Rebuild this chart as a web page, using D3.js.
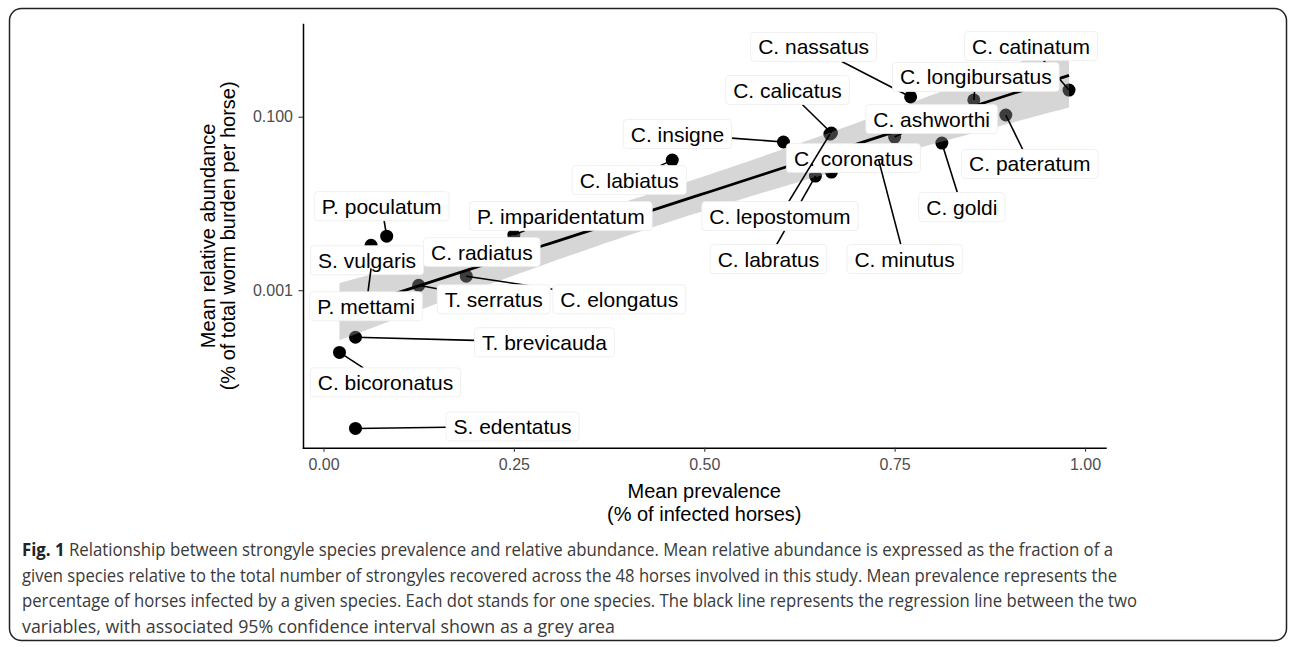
<!DOCTYPE html>
<html>
<head>
<meta charset="utf-8">
<script src="https://d3js.org/d3.v7.min.js"></script>
<style>
  body { margin: 0; background: #fff; }
  svg { display: block; }
  .tick text { font-family: "Liberation Sans", Arial, sans-serif; font-size: 16px; fill: #4d4d4d; }
  .axis-title { font-family: "Liberation Sans", Arial, sans-serif; font-size: 20px; fill: #000; text-anchor: middle; }
  .lab text { font-family: "Liberation Sans", Arial, sans-serif; font-size: 21px; fill: #000; }
  .caption { font-family: "Open Sans", sans-serif; font-size: 18px; fill: #3a3a3a; }
</style>
</head>
<body>
<script>
// species, in the order the labels get drawn
const species = [
  "C. nassatus", "C. catinatum", "C. longibursatus", "C. calicatus", "C. insigne",
  "C. ashworthi", "C. pateratum", "C. coronatus", "C. labratus", "C. lepostomum",
  "C. minutus", "C. goldi", "C. labiatus", "P. poculatum", "S. vulgaris",
  "P. mettami", "P. imparidentatum", "C. radiatus", "C. elongatus", "T. serratus",
  "T. brevicauda", "C. bicoronatus", "S. edentatus"
]
// mean prevalence (fraction of the 48 horses)
const prevalence = [
  0.771, 0.979, 0.854, 0.667, 0.604,
  0.750, 0.896, 0.667, 0.646, 0.665,
  0.729, 0.812, 0.458, 0.083, 0.0625,
  0.0625, 0.250, 0.208, 0.1875, 0.125,
  0.042, 0.021, 0.042
]
// mean relative abundance
const abundance = [
  0.169, 0.203, 0.156, 0.0649, 0.0511,
  0.0583, 0.1047, 0.0230, 0.0207, 0.0631,
  0.0316, 0.0497, 0.0316, 0.0042, 0.0033,
  0.00179, 0.00432, 0.00275, 0.00145, 0.00114,
  0.000287, 0.000192, 0.0000255
]
const xTicks = [0, 0.25, 0.5, 0.75, 1]
const yTicks = [0.001, 0.1]
const xTitle = ["Mean prevalence", "(% of infected horses)"]
const yTitle = ["Mean relative abundance", "(% of total worm burden per horse)"]
const captionBold = "Fig. 1"
const captionLines = [
  " Relationship between strongyle species prevalence and relative abundance. Mean relative abundance is expressed as the fraction of a",
  "given species relative to the total number of strongyles recovered across the 48 horses involved in this study. Mean prevalence represents the",
  "percentage of horses infected by a given species. Each dot stands for one species. The black line represents the regression line between the two",
  "variables, with associated 95% confidence interval shown as a grey area"
]

// where the repel step put each label (px offset from its point)
const labelShift = {
  "C. nassatus": [-97, -50], "C. catinatum": [-38, -44], "C. longibursatus": [2, -23],
  "C. calicatus": [-44, -43], "C. insigne": [-106, -8], "C. ashworthi": [37, -18],
  "C. pateratum": [24, 49], "C. coronatus": [22, -14], "C. labratus": [-47, 83],
  "C. lepostomum": [-50, 82], "C. minutus": [26, 99], "C. goldi": [20, 64],
  "C. labiatus": [-43, 20], "P. poculatum": [-5, -30], "S. vulgaris": [-4, 15],
  "P. mettami": [-5, 38], "P. imparidentatum": [47, -19], "C. radiatus": [0, 0],
  "C. elongatus": [153, 23], "T. serratus": [75, 14], "T. brevicauda": [189, 5],
  "C. bicoronatus": [46, 30], "S. edentatus": [157, -2]
}

const W = 1293, H = 647
const panel = {left: 303, right: 1105.5, top: 24, bottom: 447.7}

const svg = d3.select('body').append('svg').attr('width', W).attr('height', H)

// lm of log10(abundance) on prevalence, same as geom_smooth(method = "lm")
const lx = prevalence, ly = abundance.map(Math.log10)
const n = lx.length, mx = d3.mean(lx), my = d3.mean(ly)
const sxx = d3.sum(lx, v => (v - mx) ** 2)
const sxy = d3.sum(lx, (v, i) => (v - mx) * (ly[i] - my))
const slope = sxy / sxx, icept = my - slope * mx
const rse = Math.sqrt(d3.sum(lx, (v, i) => (ly[i] - icept - slope * v) ** 2) / (n - 2))
const tq = 2.0796 // qt(0.975, 21)
const [xa, xb] = d3.extent(lx)
const fit = d3.range(80).map(i => {
  const v = xa + (xb - xa) * i / 79
  const yh = icept + slope * v
  const h = tq * rse * Math.sqrt(1 / n + (v - mx) ** 2 / sxx)
  return {x: v, y: yh, lo: yh - h, hi: yh + h}
})

function expand([a, b]) { const d = (b - a) * 0.05; return [a - d, b + d] }
const xDom = expand(d3.extent(lx))
const yDom = expand([Math.min(d3.min(ly), d3.min(fit, d => d.lo)), Math.max(d3.max(ly), d3.max(fit, d => d.hi))])
const x = d3.scaleLinear().domain(xDom).range([panel.left, panel.right])
const y = d3.scaleLog().domain(yDom.map(v => 10 ** v)).range([panel.bottom, panel.top])

// outer frame
svg.append('rect')
  .attr('x', 9.5).attr('y', 8.5).attr('width', 1277).attr('height', 632)
  .attr('rx', 12).attr('fill', 'none').attr('stroke', '#222').attr('stroke-width', 1.5)

// points, then ribbon and fit on top
svg.append('g').selectAll('circle')
  .data(species).join('circle')
    .attr('cx', (d, i) => x(prevalence[i]))
    .attr('cy', (d, i) => y(abundance[i]))
    .attr('r', 6.5)
    .attr('fill', '#000')

svg.append('path').datum(fit)
  .attr('d', d3.area().x(d => x(d.x)).y0(d => y(10 ** d.lo)).y1(d => y(10 ** d.hi)))
  .attr('fill', '#999').attr('fill-opacity', 0.4)

svg.append('path').datum(fit)
  .attr('d', d3.line().x(d => x(d.x)).y(d => y(10 ** d.y)))
  .attr('fill', 'none').attr('stroke', '#000').attr('stroke-width', 2.8)

// axes
const gx = svg.append('g').attr('transform', `translate(0,${panel.bottom})`)
  .call(d3.axisBottom(x).tickValues(xTicks).tickFormat(d3.format('.2f')).tickSize(4).tickSizeOuter(0).tickPadding(6.5))
const gy = svg.append('g').attr('transform', `translate(${panel.left},0)`)
  .call(d3.axisLeft(y).tickValues(yTicks).tickFormat(d3.format('.3f')).tickSize(4.5).tickSizeOuter(0).tickPadding(5.5))
;[gx, gy].forEach(g => {
  g.select('.domain').attr('stroke', '#000').attr('stroke-width', 1.5).attr('stroke-linecap', 'square')
  g.selectAll('.tick line').attr('stroke', '#333').attr('stroke-width', 1.1)
})

const cxMid = (panel.left + panel.right) / 2, cyMid = (panel.top + panel.bottom) / 2
svg.append('g').selectAll('text').data(xTitle).join('text')
  .attr('class', 'axis-title')
  .attr('x', cxMid).attr('y', (d, i) => 498 + i * 22.5)
  .text(d => d)
svg.append('g').selectAll('text').data(yTitle).join('text')
  .attr('class', 'axis-title')
  .attr('transform', (d, i) => `translate(${215 + i * 20},${cyMid}) rotate(-90)`)
  .text(d => d)

// labels with segments (segment, box, text per label)
const labG = svg.append('g')
species.forEach((s, i) => {
  const px = x(prevalence[i]), py = y(abundance[i])
  const [dx, dy] = labelShift[s]
  const cx = px + dx, cy = py + dy
  const g = labG.append('g').attr('class', 'lab')
  const seg = g.append('line')
  const box = g.append('rect')
  const t = g.append('text')
    .attr('x', cx).attr('y', cy)
    .attr('text-anchor', 'middle').attr('dominant-baseline', 'central')
    .text(s)
  const w = t.node().getComputedTextLength() + 15, h = 29
  box.attr('x', cx - w / 2).attr('y', cy - h / 2).attr('width', w).attr('height', h)
    .attr('rx', 3.5).attr('fill', '#fff').attr('stroke', '#ececec').attr('stroke-width', 0.8)
  const vx = px - cx, vy = py - cy
  const k = Math.min(vx ? (w / 2) / Math.abs(vx) : Infinity, vy ? (h / 2) / Math.abs(vy) : Infinity)
  const len = (1 - k) * Math.hypot(vx, vy)
  if (k < 1 && len > 7) {
    seg.attr('x1', cx + vx * k).attr('y1', cy + vy * k).attr('x2', px).attr('y2', py)
      .attr('stroke', '#000').attr('stroke-width', 1.6)
  } else seg.remove()
})

// caption
const cap = svg.append('g').attr('class', 'caption')
const capEnds = [1113, 1117, 1137, 615]
captionLines.forEach((line, i) => {
  const t = cap.append('text').attr('x', 22).attr('y', 556 + i * 25.5)
    .attr('textLength', capEnds[i] - 22).attr('lengthAdjust', 'spacingAndGlyphs')
  if (i === 0) t.append('tspan').attr('font-weight', 700).attr('fill', '#222').text(captionBold)
  t.append('tspan').text(line)
})
</script>
</body>
</html>
